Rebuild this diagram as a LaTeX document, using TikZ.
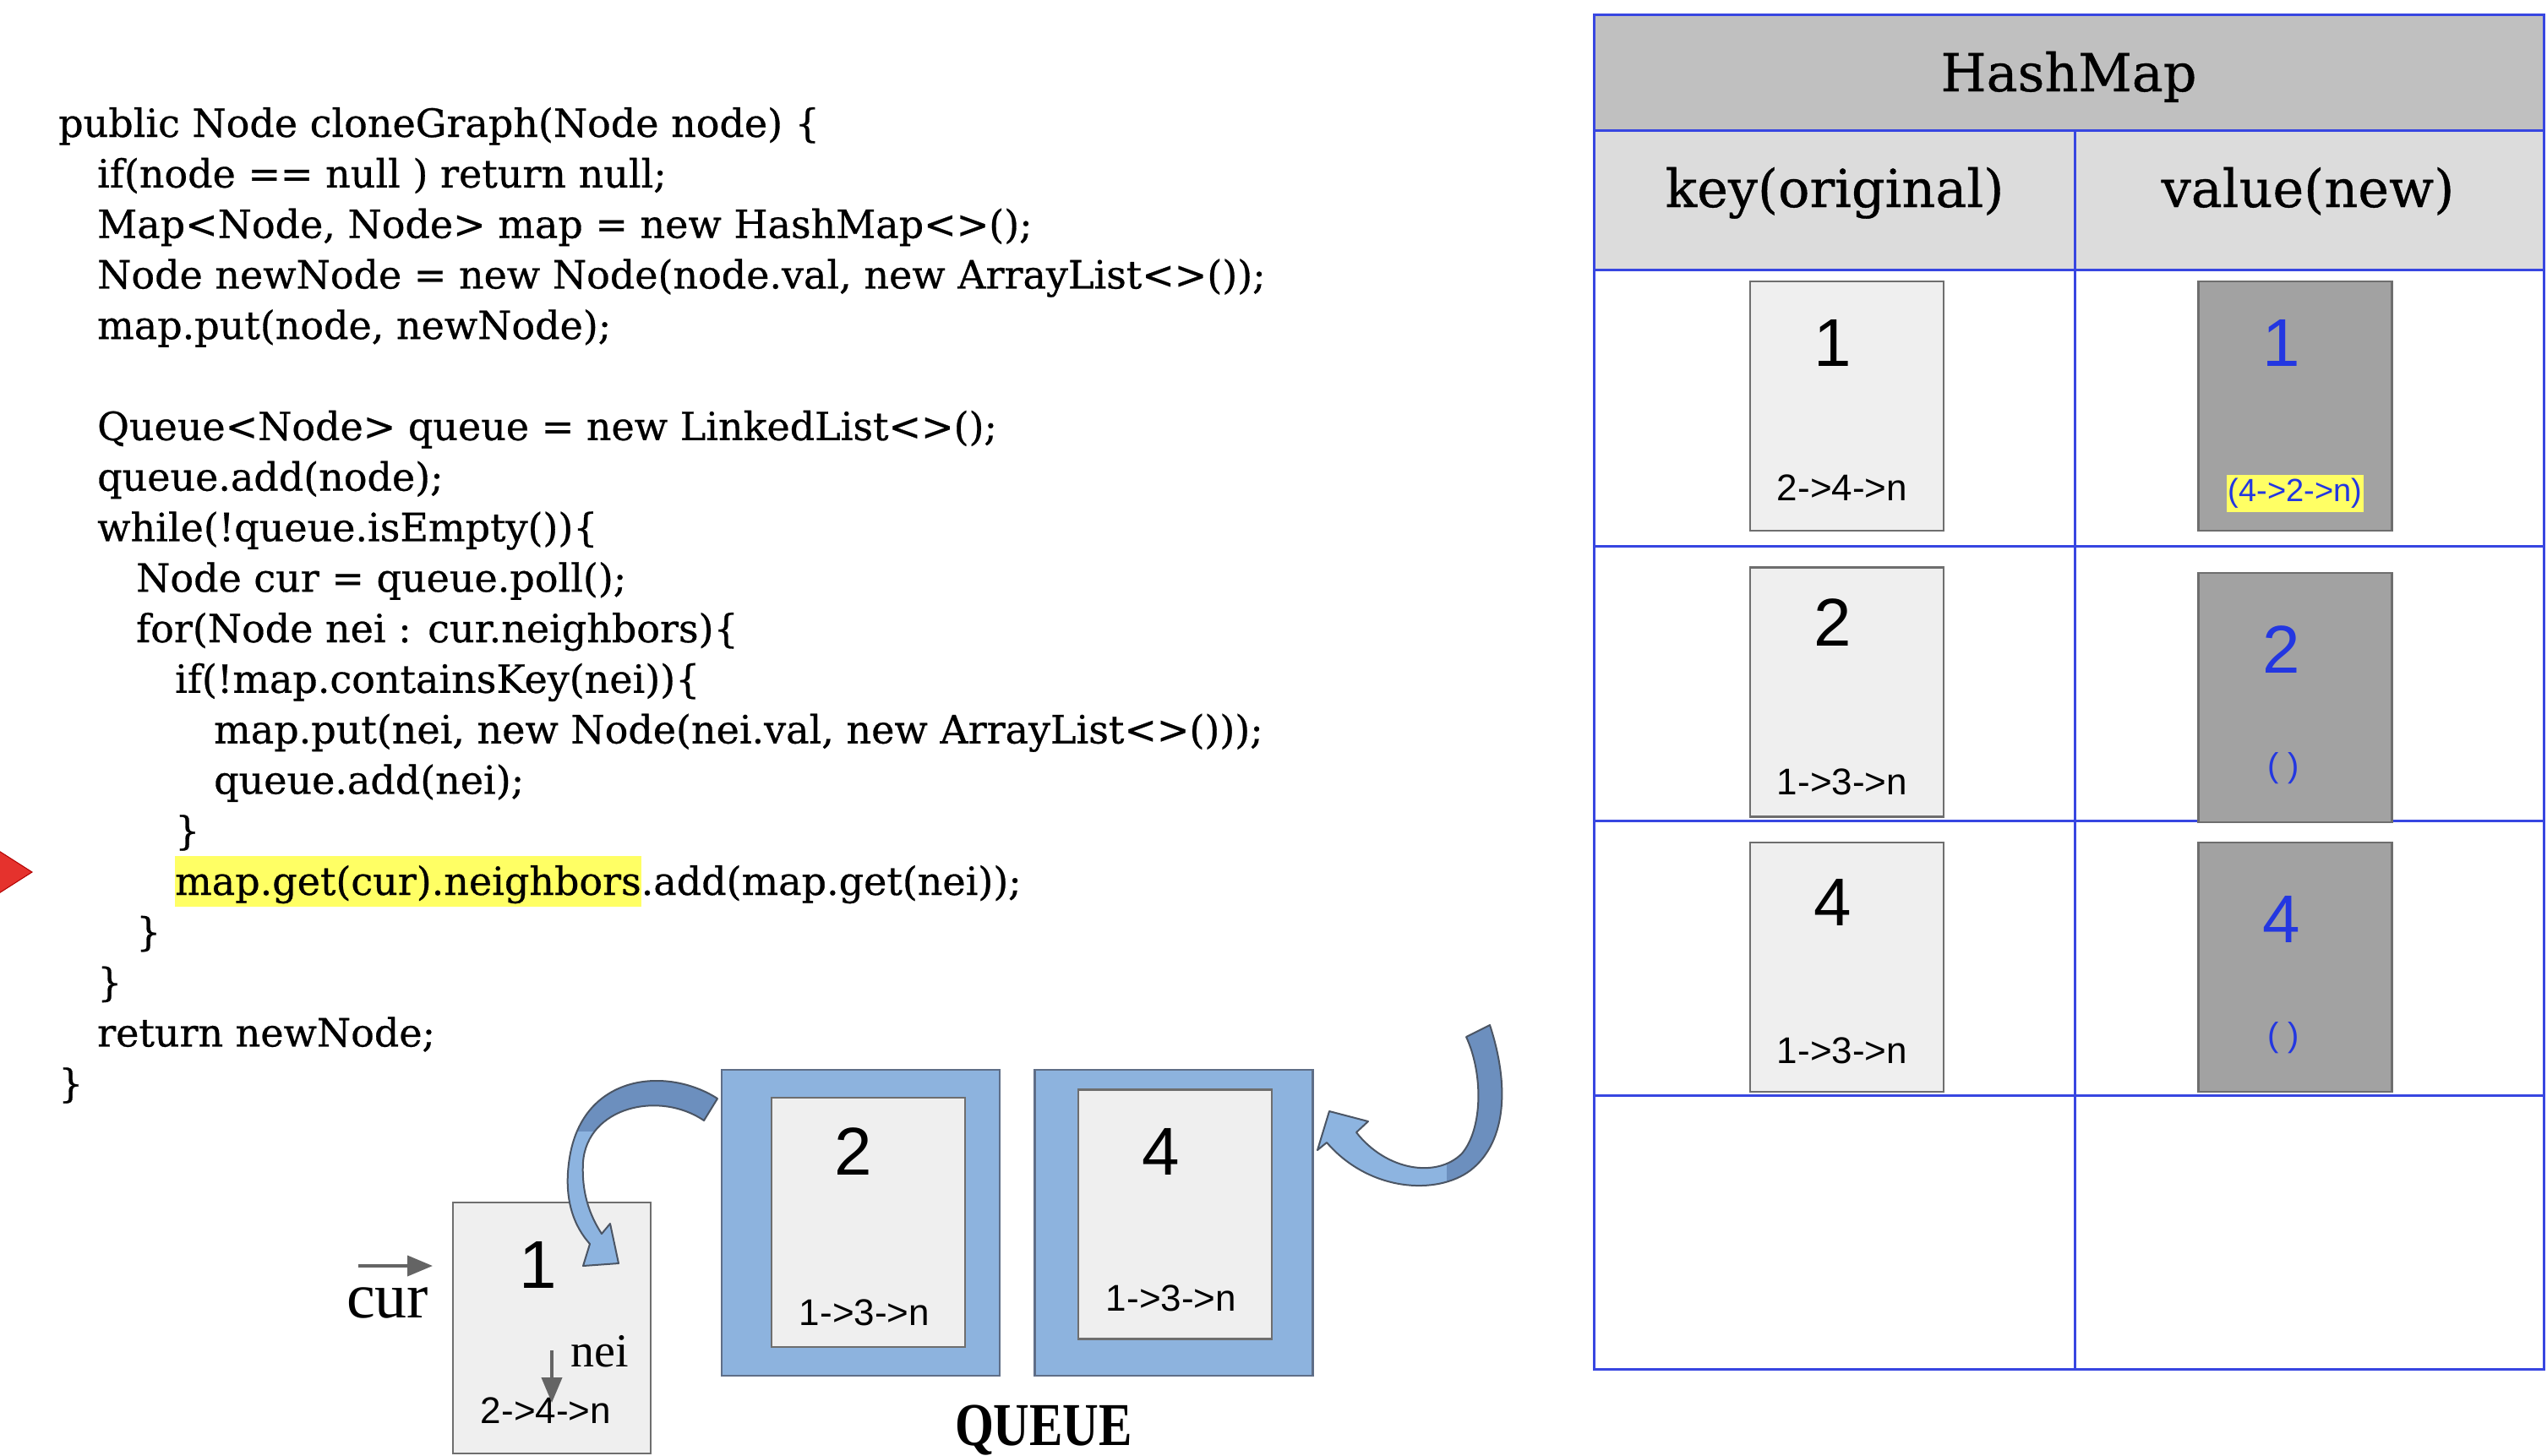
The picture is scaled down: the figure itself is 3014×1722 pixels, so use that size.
\documentclass[tikz,border=0pt]{standalone}
\usepackage{fontspec}
\usepackage{graphicx}
\setmainfont{DejaVu Serif}
\newfontfamily\codefont{DejaVu Serif}[FakeBold=0.6]
\newfontfamily\sansdig{Liberation Sans}
\newfontfamily\timesf{Liberation Serif}
\usetikzlibrary{arrows.meta}
\definecolor{hlyellow}{RGB}{255,255,100}
\definecolor{redtri}{RGB}{229,50,45}
\definecolor{tblblue}{RGB}{55,70,225}
\definecolor{hdrgray}{RGB}{192,192,192}
\definecolor{subgray}{RGB}{220,220,220}
\definecolor{keyfill}{RGB}{239,239,239}
\definecolor{keyline}{RGB}{110,110,110}
\definecolor{valfill}{RGB}{162,162,162}
\definecolor{valtext}{RGB}{35,55,225}
\definecolor{qblue}{RGB}{141,179,222}
\definecolor{qline}{RGB}{95,110,135}
\definecolor{arrlight}{RGB}{141,180,224}
\definecolor{arrdark}{RGB}{108,143,190}
\definecolor{arrline}{RGB}{75,85,100}
\definecolor{ptrgray}{RGB}{100,100,100}
\newcommand\arrowApath{(849,1300) .. controls (790,1262) and (690,1270) .. (674,1370) .. controls (666,1420) and (680,1452) .. (698,1472) -- (690,1498) -- (732,1495) -- (722,1448) -- (712,1460) .. controls (697,1437) and (688,1410) .. (690,1375) .. controls (695,1310) and (780,1290) .. (833,1326) -- cycle}
\newcommand\arrowBpath{(1763,1213) .. controls (1785,1280) and (1785,1350) .. (1740,1385) .. controls (1700,1415) and (1620,1410) .. (1570,1352) -- (1559,1361) -- (1573,1315) -- (1619,1327) -- (1605,1340) .. controls (1640,1385) and (1700,1395) .. (1730,1365) .. controls (1755,1335) and (1755,1270) .. (1735,1227) -- cycle}
\tikzset{
  codeline/.style={anchor=base west, inner sep=0pt, font=\codefont\fontsize{46}{54}\selectfont},
  hdrtext/.style={anchor=base, inner sep=0pt, font=\codefont\fontsize{62}{70}\selectfont},
  keybox/.style={draw=keyline, fill=keyfill, line width=2.5pt, minimum width=229pt, minimum height=295pt, inner sep=0pt},
  valbox/.style={keybox, fill=valfill},
  qouter/.style={draw=qline, fill=qblue, line width=2.5pt, minimum width=329pt, minimum height=362pt, inner sep=0pt},
  qinner/.style={keybox},
  bigdig/.style={font=\sansdig\fontsize{80}{80}\selectfont, inner sep=0pt},
  smalllbl/.style={font=\sansdig\fontsize{44}{44}\selectfont, inner sep=0pt},
  vallbl/.style={font=\sansdig\fontsize{40}{40}\selectfont, inner sep=0pt, text=valtext},
  tbl/.style={draw=tblblue, line width=3pt},
  ptr/.style={draw=ptrgray, line width=4pt, -{Triangle[length=30pt,width=24pt]}},
  blockarrow/.style={draw=arrline, line width=2pt, line join=round}
}
\begin{document}
\begin{tikzpicture}[x=1pt,y=-1pt]
\useasboundingbox (0,0) rectangle (3014,1722);
\clip (0,0) rectangle (3014,1722);
\fill[white] (0,0) rectangle (3014,1722);

% ---------------- code ----------------
\node[codeline] (c1)  at (69,162.0)   {public Node cloneGraph(Node node) \{};
\node[codeline] (c2)  at (115,221.8)  {if(node == null ) return null;};
\node[codeline] (c3)  at (115,281.6)  {Map<Node, Node> map = new HashMap<>();};
\node[codeline] (c4)  at (115,341.4)  {Node newNode = new Node(node.val, new ArrayList<>());};
\node[codeline] (c5)  at (115,401.2)  {map.put(node, newNode);};
\node[codeline] (c7)  at (115,520.8)  {Queue<Node> queue = new LinkedList<>();};
\node[codeline] (c8)  at (115,580.6)  {queue.add(node);};
\node[codeline] (c9)  at (115,640.4)  {while(!queue.isEmpty())\{};
\node[codeline] (c10) at (161,700.2)  {Node cur = queue.poll();};
\node[codeline] (c11) at (161,760.0)  {for(Node nei : cur.neighbors)\{};
\node[codeline] (c12) at (207,819.8)  {if(!map.containsKey(nei))\{};
\node[codeline] (c13) at (253,879.6)  {map.put(nei, new Node(nei.val, new ArrayList<>()));};
\node[codeline] (c14) at (253,939.4)  {queue.add(nei);};
\node[codeline] (c15) at (207,999.2)  {\}};
\node[codeline] (c16) at (207,1059.0) {\setlength{\fboxsep}{0pt}\colorbox{hlyellow}{\rule[-14pt]{0pt}{60pt}map.get(cur).neighbors}.add(map.get(nei));};
\node[codeline] (c17) at (161,1118.8) {\}};
\node[codeline] (c18) at (115,1178.6) {\}};
\node[codeline] (c19) at (115,1238.4) {return newNode;};
\node[codeline] (c20) at (69,1298.2)  {\}};

% red marker
\fill[redtri, draw=red!70!black, line width=1pt] (-20,995) -- (38,1032) -- (-20,1069) -- cycle;

% ---------------- HashMap table ----------------
\fill[hdrgray] (1886,17) rectangle (3010,154);
\fill[subgray] (1886,154) rectangle (3010,319);
\draw[tbl] (1886,154) -- (3010,154);
\draw[tbl] (1886,319) -- (3010,319);
\draw[tbl] (1886,646) -- (3010,646);
\draw[tbl] (1886,971) -- (3010,971);
\draw[tbl] (1886,1296) -- (3010,1296);
\draw[tbl] (2455,154) -- (2455,1620);
\draw[tbl] (1886,17) rectangle (3010,1620);
\node[hdrtext] (hm) at (2448,108) {HashMap};
\node[hdrtext] (hk) at (2171,245) {key(original)};
\node[hdrtext] (hv) at (2731,245) {value(new)};

\node[keybox] (k1) at (2185.5,480.5) {};
\node[keybox] (k2) at (2185.5,819) {};
\node[keybox] (k3) at (2185.5,1144.5) {};
\node[valbox] (v1) at (2716,480.5) {};
\node[valbox] (v2) at (2716,825.5) {};
\node[valbox] (v3) at (2716,1144.5) {};

\node[bigdig] (k1n) at (2169,406) {1};
\node[smalllbl] (k1l) at (2180,577) {2->4->n};
\node[bigdig] (k2n) at (2169,737) {2};
\node[smalllbl] (k2l) at (2180,925) {1->3->n};
\node[bigdig] (k3n) at (2169,1068) {4};
\node[smalllbl] (k3l) at (2180,1243) {1->3->n};

\node[bigdig, text=valtext] (v1n) at (2700,406) {1};
\node[font=\sansdig\fontsize{38}{38}\selectfont, text=valtext, fill=hlyellow, inner xsep=2pt, inner ysep=4pt] (v1l) at (2716,584) {(4->2->n)};
\node[bigdig, text=valtext] (v2n) at (2700,769) {2};
\node[vallbl] (v2l) at (2702,909) {( )};
\node[bigdig, text=valtext] (v3n) at (2700,1088) {4};
\node[vallbl] (v3l) at (2702,1228) {( )};

% ---------------- queue ----------------
\node[qouter] (q1o) at (1018.5,1447) {};
\node[qinner] (q1i) at (1027.5,1446.5) {};
\node[qouter] (q2o) at (1389,1447) {};
\node[qinner] (q2i) at (1390.5,1437) {};
\node[bigdig] (q1n) at (1010,1363) {2};
\node[smalllbl] (q1l) at (1023,1553) {1->3->n};
\node[bigdig] (q2n) at (1374,1363) {4};
\node[smalllbl] (q2l) at (1386,1536) {1->3->n};
\node[font=\timesf\bfseries\fontsize{72}{72}\selectfont, inner sep=0pt] (qlabel) at (1235,1692) {\scalebox{0.82}[1]{QUEUE}};

% current node
\node[keybox, minimum width=234pt, minimum height=297pt] (curbox) at (653,1571.5) {};
\node[bigdig] (curn) at (637,1497) {1};
\node[smalllbl] (curl) at (646,1669) {2->4->n};
\node[font=\timesf\fontsize{56}{56}\selectfont, inner sep=0pt, anchor=base west] (neilbl) at (675,1617) {nei};
\node[font=\timesf\fontsize{76}{76}\selectfont, inner sep=0pt, anchor=base west] (curlbl) at (410,1559) {cur};
\coordinate (cp1) at (424,1498);
\coordinate (cp2) at (512,1498);
\draw[ptr] (cp1) -- (cp2);
\coordinate (np1) at (653,1598);
\coordinate (np2) at (653,1660);
\draw[ptr] (np1) -- (np2);

% curved block arrows
\fill[arrlight] \arrowApath;
\begin{scope}
  \clip (600,1200) rectangle (900,1338);
  \fill[arrdark] \arrowApath;
\end{scope}
\draw[blockarrow] \arrowApath;

\fill[arrlight] \arrowBpath;
\begin{scope}
  \clip (1712,1180) rectangle (1820,1420);
  \fill[arrdark] \arrowBpath;
\end{scope}
\draw[blockarrow] \arrowBpath;
\end{tikzpicture}
\end{document}
